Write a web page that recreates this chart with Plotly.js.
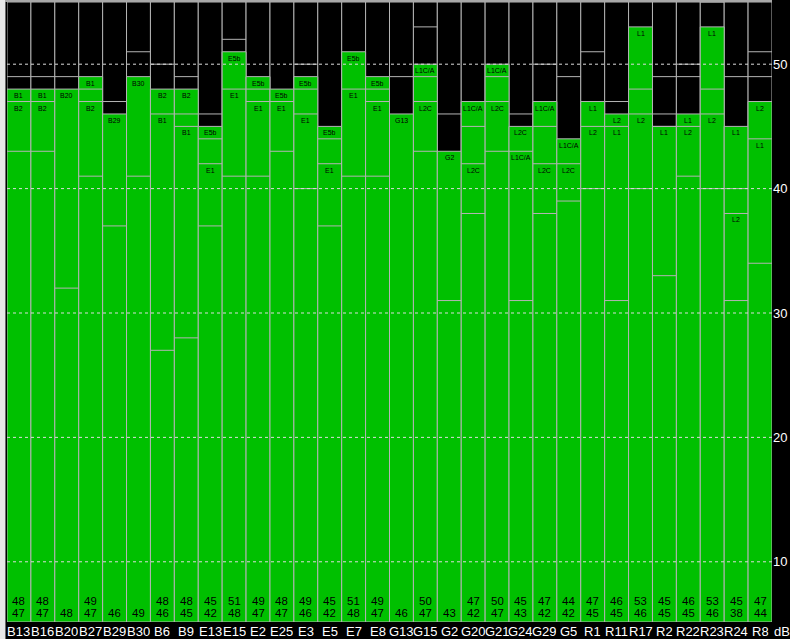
<!DOCTYPE html>
<html><head><meta charset="utf-8">
<script src="https://cdn.plot.ly/plotly-3.0.1.min.js"></script>
<style>html,body{margin:0;padding:0;background:#000;}#chart{width:790px;height:639px;}</style>
</head><body><div id="chart"></div>
<script>
const channels = ['B13','B16','B20','B27','B29','B30','B6','B9','E13','E15','E2','E25','E3','E5','E7','E8','G13','G15','G2','G20','G21','G24','G29','G5','R1','R11','R17','R2','R22','R23','R24','R8'];
const topValues = [48,48,48,49,46,49,48,48,45,51,49,48,49,45,51,49,46,50,43,47,50,45,47,44,47,46,53,45,46,53,45,47];
const secondValues = [47,47,null,47,null,null,46,45,42,48,47,47,46,42,48,47,null,47,null,42,47,43,42,42,45,45,46,45,45,46,38,44];
const topLabels = ['B1','B1','B20','B1','B29','B30','B2','B2','E5b','E5b','E5b','E5b','E5b','E5b','E5b','E5b','G13','L1C/A','G2','L1C/A','L1C/A','L2C','L1C/A','L1C/A','L1','L2','L1','L1','L1','L1','L1','L2'];
const secondLabels = ['B2','B2',null,'B2',null,null,'B1','B1','E1','E1','E1','E1','E1','E1','E1','E1',null,'L2C',null,'L2C','L2C','L1C/A','L2C','L2C','L2','L1','L2','L2','L2','L2','L2','L1'];
const extraLevels = [[49,43],[49,43],[49,32],[48,41],[47,37],[51,41],[50,27],[49,46,28],[46,44,37],[52,41],[48,41],[43],[50,48,40],[44,37],[41],[48,41],[49],[53,49,43],[46,31],[45,38],[49,43],[46,31],[50,45,38],[49,39],[51,40],[47,31],[48,40],[49,46,33],[50,49,41],[55,48,40],[49,40,31],[51,49,34]];
const yTicks = [10,20,30,40,50];

const Y_MIN = 5.16, Y_MAX = 55;
const GREEN = '#00c000', EDGE = '#b4b4b4';
const FONT = 'Liberation Sans, Arial, sans-serif';
const W = 790, H = 639, ML = 7, MR = 18, MT = 2, MB = 17;
const PW = W - ML - MR, PH = H - MT - MB;
const idx = channels.map((_, i) => i);

const traces = [];
traces.push({type:'bar', x: idx, y: idx.map(() => Y_MAX - Y_MIN), base: Y_MIN, width: 1,
  marker: {color: '#000', line: {color: EDGE, width: 1}}, hoverinfo: 'skip'});
traces.push({type:'bar', x: idx, y: topValues.map(v => v - Y_MIN), base: Y_MIN, width: 1,
  marker: {color: GREEN, line: {color: EDGE, width: 1}}, hoverinfo: 'skip'});
const lx = [], ly = [];
idx.forEach(i => {
  const lv = [secondValues[i]].concat(extraLevels[i]).filter(v => v != null);
  lv.forEach(v => { lx.push(i - 0.5, i + 0.5, null); ly.push(v, v, null); });
});
traces.push({type:'scatter', mode:'lines', x: lx, y: ly, line: {color: EDGE, width: 1}, hoverinfo: 'skip'});

const annotations = [];
idx.forEach(i => {
  annotations.push({x: i, y: topValues[i], xref:'x', yref:'y', text: topLabels[i], showarrow: false,
    yanchor:'top', yshift: -1, font: {family: FONT, size: 7, color: '#000'}});
  if (secondLabels[i] && secondValues[i] !== topValues[i]) {
    annotations.push({x: i, y: secondValues[i], xref:'x', yref:'y', text: secondLabels[i], showarrow: false,
      yanchor:'top', yshift: -1, font: {family: FONT, size: 7, color: '#000'}});
  }
  const hasSecond = secondValues[i] != null;
  annotations.push({x: i, y: 0, xref:'x', yref:'paper', text: String(hasSecond ? secondValues[i] : topValues[i]),
    showarrow: false, yanchor:'bottom', yshift: 2, height: 12, borderpad: 0,
    font: {family: FONT, size: 11.5, color: '#000'}});
  if (hasSecond) {
    annotations.push({x: i, y: 0, xref:'x', yref:'paper', text: String(topValues[i]),
      showarrow: false, yanchor:'bottom', yshift: 14.5, height: 12, borderpad: 0,
      font: {family: FONT, size: 11.5, color: '#000'}});
  }
  annotations.push({x: i, y: 0, xref:'x', yref:'paper', text: channels[i], showarrow: false,
    yanchor:'top', yshift: -1, height: 15, borderpad: 0, font: {family: FONT, size: 13, color: '#fff'}});
});
annotations.push({x: 1, y: 0, xref:'paper', yref:'paper', xanchor:'left', yanchor:'top', xshift: 1, yshift: -1,
  height: 15, borderpad: 0, text: 'dB', showarrow: false, font: {family: FONT, size: 13, color: '#fff'}});

const shapes = yTicks.map(t => ({type:'line', xref:'paper', x0: 0, x1: 1, yref:'y', y0: t, y1: t, layer:'above',
  line: {color: '#dcdcdc', width: 1, dash: 'dot'}}));
shapes.push({type:'rect', xref:'paper', yref:'paper', x0: -ML / PW, x1: -2 / PW, y0: -MB / PH, y1: 1 + MT / PH,
  fillcolor: '#e8e8e8', line: {width: 0}, layer: 'above'});
shapes.push({type:'line', xref:'paper', yref:'paper', x0: -1.5 / PW, x1: -1.5 / PW, y0: -MB / PH, y1: 1 + MT / PH,
  line: {color: '#6a6a6a', width: 1}, layer: 'above'});
shapes.push({type:'rect', xref:'paper', yref:'paper', x0: -2 / PW, x1: 1, y0: 1, y1: 1 + MT / PH,
  fillcolor: '#a8a8a8', line: {width: 0}, layer: 'above'});

const layout = {
  width: W, height: H,
  margin: {l: ML, r: MR, t: MT, b: MB},
  paper_bgcolor: '#000', plot_bgcolor: '#000',
  barmode: 'overlay', bargap: 0, showlegend: false,
  xaxis: {range: [-0.5, 31.5], tickvals: idx, showticklabels: false, ticks: '', showgrid: false, zeroline: false, fixedrange: true},
  yaxis: {range: [Y_MIN, Y_MAX], side: 'right', tickvals: yTicks, ticks: '', showgrid: false, zeroline: false,
    tickfont: {family: FONT, size: 13, color: '#fff'}, fixedrange: true},
  annotations: annotations, shapes: shapes
};
Plotly.newPlot('chart', traces, layout, {displayModeBar: false, staticPlot: true});
</script></body></html>
